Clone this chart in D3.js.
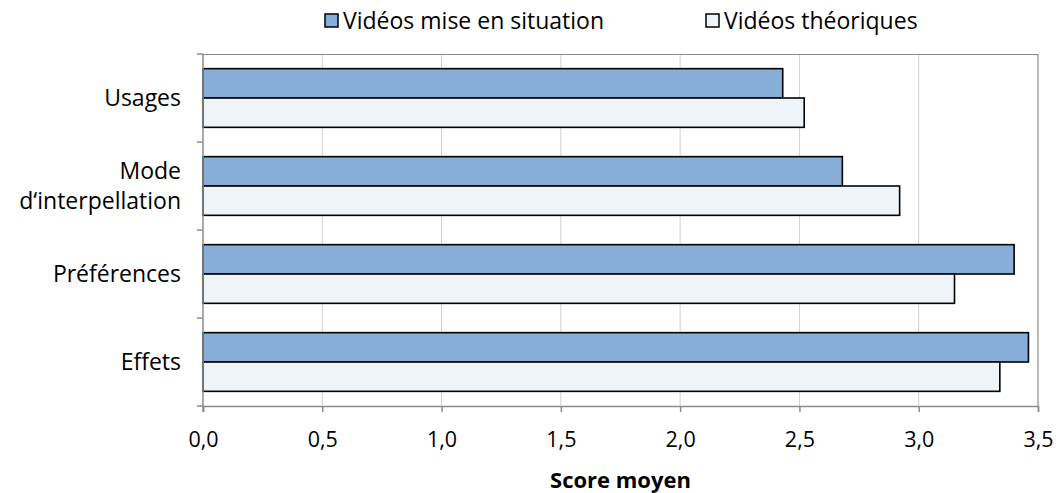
<!DOCTYPE html>
<html>
<head>
<meta charset="utf-8">
<script src="https://cdn.jsdelivr.net/npm/d3@7"></script>
<style>
  body { margin: 0; background: #fff; }
  svg text { font-family: "Open Sans", "Noto Sans", sans-serif; fill: #000; }
</style>
</head>
<body>
<svg class="chart"></svg>
<script>
// chart data
var categories = ["Usages", "Mode\nd\u2018interpellation", "Préférences", "Effets"];
var seriesNames = ["Vidéos mise en situation", "Vidéos théoriques"];
var miseEnSituation = [2.43, 2.68, 3.40, 3.46];
var theoriques = [2.52, 2.92, 3.15, 3.34];
var xTicks = [0, 0.5, 1, 1.5, 2, 2.5, 3, 3.5];
var colors = ["#86AED7", "#EFF4F9"];

var W = 1056, H = 493;
var margin = {top: 54, right: 18, bottom: 87, left: 203},
    width = W - margin.left - margin.right,
    height = H - margin.top - margin.bottom;

var svg = d3.select(".chart").attr("width", W).attr("height", H);
var chart = svg.append("g")
    .attr("transform", "translate(" + margin.left + "," + margin.top + ")");

var x = d3.scaleLinear().domain([0, 3.5]).range([0, width]);
var y = d3.scaleBand().domain(d3.range(categories.length)).range([0, height]);
// two bars per group, gap = half a bar
var inner = d3.scaleBand().domain([0, 1]).range([y.bandwidth() / 6, y.bandwidth() * 5 / 6]);

var fmt = function(d){ return d3.format(".1f")(d).replace(".", ","); };

// grid lines
chart.append("g").selectAll("line")
    .data(xTicks.slice(1, -1))
  .enter().append("line")
    .attr("x1", function(d){ return x(d); }).attr("x2", function(d){ return x(d); })
    .attr("y1", 0).attr("y2", height)
    .attr("stroke", "#d0d0d0").attr("stroke-width", 1);

// plot border top / right
chart.append("path")
    .attr("d", "M0,0.5H" + width + "V" + height)
    .attr("fill", "none").attr("stroke", "#8c8c8c").attr("stroke-width", 1.2);

// bars
var data = categories.map(function(c, i){ return [miseEnSituation[i], theoriques[i]]; });
var group = chart.selectAll(".grp")
    .data(data)
  .enter().append("g")
    .attr("transform", function(d, i){ return "translate(0," + y(i) + ")"; });

group.selectAll("rect")
    .data(function(d){ return d; })
  .enter().append("rect")
    .attr("x", 0)
    .attr("y", function(d, j){ return inner(j); })
    .attr("width", function(d){ return x(d); })
    .attr("height", inner.bandwidth())
    .attr("fill", function(d, j){ return colors[j]; })
    .attr("stroke", "#000").attr("stroke-width", 1.6);

// x axis
var xAxis = d3.axisBottom(x).tickValues(xTicks).tickFormat(fmt).tickSize(6).tickPadding(20);
var gx = chart.append("g").attr("transform", "translate(0," + height + ")").call(xAxis);
gx.select(".domain").attr("stroke", "#8c8c8c").attr("stroke-width", 1.5);
gx.selectAll(".tick line").attr("stroke", "#8c8c8c").attr("stroke-width", 1.5);
gx.selectAll("text").attr("font-size", 21.5).style("font-family", "'Open Sans', sans-serif");

// y axis with ticks on category boundaries
var gy = chart.append("g");
gy.append("line").attr("x1", 0).attr("x2", 0).attr("y1", 0).attr("y2", height + 6)
    .attr("stroke", "#8c8c8c").attr("stroke-width", 1.5);
gy.selectAll(".yt")
    .data(d3.range(categories.length + 1))
  .enter().append("line")
    .attr("x1", -6).attr("x2", 0)
    .attr("y1", function(i){ return i * y.step(); })
    .attr("y2", function(i){ return i * y.step(); })
    .attr("stroke", "#8c8c8c").attr("stroke-width", 1.5);

var lab = gy.selectAll(".lab")
    .data(categories)
  .enter().append("text")
    .attr("text-anchor", "end")
    .attr("font-size", 23)
    .attr("transform", function(d, i){ return "translate(-22," + (y(i) + y.bandwidth() / 2) + ")"; });
lab.each(function(d){
  var lines = d.split("\n");
  var t = d3.select(this);
  lines.forEach(function(l, k){
    t.append("tspan").attr("x", 0)
      .attr("y", (k - (lines.length - 1) / 2) * 30)
      .attr("dy", "0.35em").text(l);
  });
});

// axis title
chart.append("text")
    .attr("x", width / 2).attr("y", height + 82)
    .attr("text-anchor", "middle")
    .attr("font-size", 22).attr("font-weight", "bold")
    .text("Score moyen");

// legend
var legendX = [325, 706];
var legend = svg.selectAll(".leg")
    .data(seriesNames)
  .enter().append("g")
    .attr("transform", function(d, i){ return "translate(" + legendX[i] + ",14)"; });
legend.append("rect")
    .attr("width", 13).attr("height", 13)
    .attr("fill", function(d, i){ return colors[i]; })
    .attr("stroke", "#000").attr("stroke-width", 1.5);
legend.append("text")
    .attr("x", 18).attr("y", 6.5).attr("dy", "0.35em")
    .attr("font-size", 23)
    .text(function(d){ return d; });
</script>
</body>
</html>
